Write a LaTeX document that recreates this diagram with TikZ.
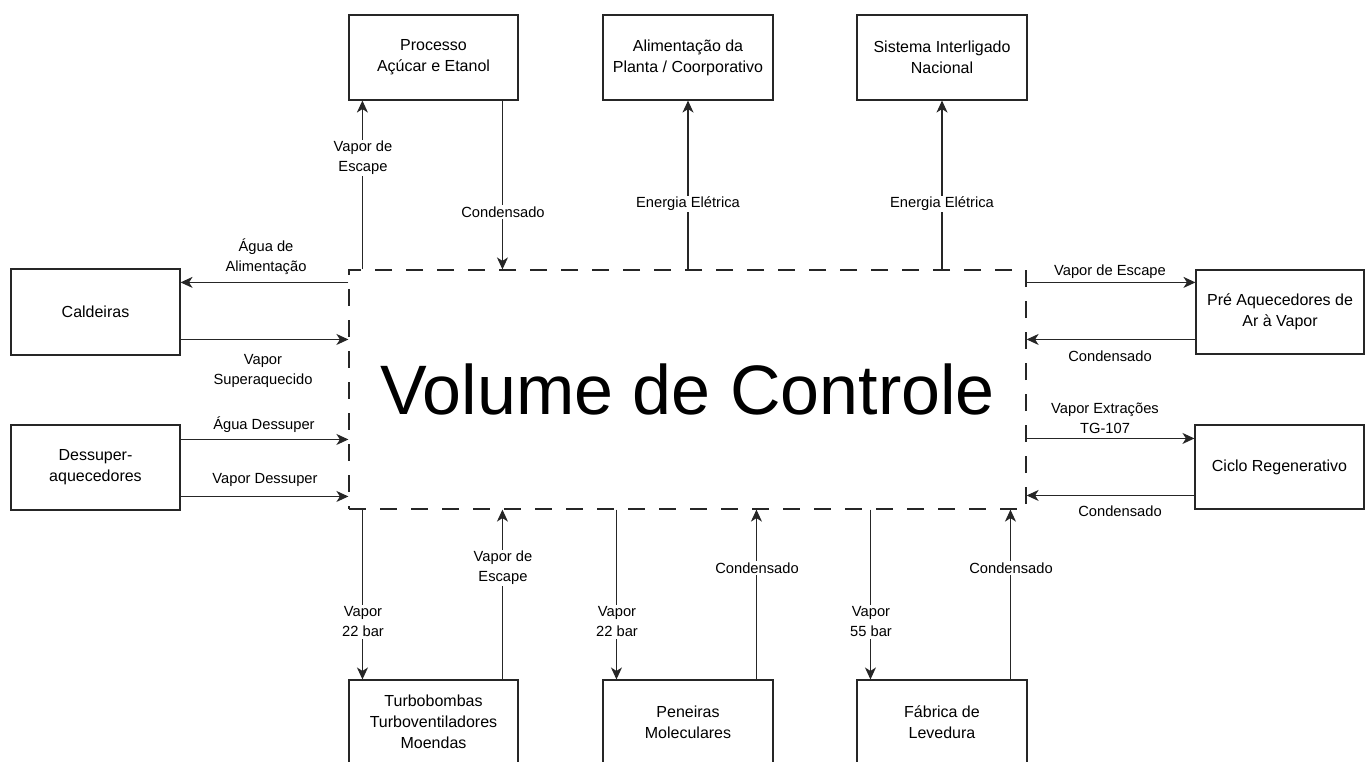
\documentclass[tikz,border=0pt]{standalone}
\usepackage{fontspec}
\setmainfont{Liberation Sans}
\usetikzlibrary{arrows.meta}
\begin{document}
\begin{tikzpicture}[x=1pt,y=-1pt,
  box/.style={draw=black!85, line width=1.1pt, align=center, inner sep=0pt, font=\fontsize{16}{21}\selectfont},
  lbl/.style={align=center, inner sep=1.5pt, font=\fontsize{14.7}{20}\selectfont},
  wlbl/.style={lbl, fill=white},
  arr/.style={draw=black!85, line width=1.2pt, -{Stealth[length=12pt,width=11pt,inset=3.5pt]}},
]
\useasboundingbox (0,0) rectangle (1372,761);
% control volume
\node[draw=black!85, line width=1.2pt, dash pattern=on 17pt off 14pt, minimum width=677pt, minimum height=239pt, inner sep=0pt, font=\fontsize{70}{84}\selectfont] (vc) at (687.5,389.5) {Volume de Controle};
% top boxes
\node[box, minimum width=169pt, minimum height=85pt] (proc) at (433.5,57.5) {Processo\\Açúcar e Etanol};
\node[box, minimum width=170pt, minimum height=85pt] (ali) at (688,57.5) {Alimentação da\\Planta / Coorporativo};
\node[box, minimum width=170pt, minimum height=85pt] (sin) at (942,57.5) {Sistema Interligado\\Nacional};
% left boxes
\node[box, minimum width=169pt, minimum height=86pt] (cal) at (95.5,312) {Caldeiras};
\node[box, minimum width=169pt, minimum height=85pt] (des) at (95.5,467.5) {Dessuper-\\aquecedores};
% right boxes
\node[box, minimum width=168pt, minimum height=84pt] (pre) at (1280,312) {Pré Aquecedores de\\Ar à Vapor};
\node[box, minimum width=169pt, minimum height=84pt] (cic) at (1279.5,467) {Ciclo Regenerativo};
% bottom boxes
\node[box, minimum width=169pt, minimum height=84pt] (tur) at (433.5,722) {Turbobombas\\Turboventiladores\\Moendas};
\node[box, minimum width=170pt, minimum height=84pt] (pen) at (688,722) {Peneiras\\Moleculares};
\node[box, minimum width=170pt, minimum height=84pt] (fab) at (942,722) {Fábrica de\\Levedura};

% top connectors
\draw[arr] ([xshift=14pt]vc.north west) -- ([xshift=14pt]vc.north west |- proc.south);
\draw[arr] ([xshift=154pt]proc.south west) -- ([xshift=154pt]proc.south west |- vc.north);
\draw[arr] (vc.north -| ali.south) -- (ali.south);
\draw[arr] (vc.north -| sin.south) -- (sin.south);
\node[wlbl] (l1) at (363,158) {Vapor de\\Escape};
\node[wlbl] (l2) at (503,212) {Condensado};
\node[wlbl] (l3) at (688,204) {Energia Elétrica};
\node[wlbl] (l4) at (942,204) {Energia Elétrica};

% left connectors
\draw[arr] ([yshift=-13pt]vc.north west) -- ([yshift=-13pt]vc.north west -| cal.east);
\draw[arr] ([yshift=-71pt]cal.north east) -- ([yshift=-71pt]cal.north east -| vc.west);
\draw[arr] ([yshift=-15pt]des.north east) -- ([yshift=-15pt]des.north east -| vc.west);
\draw[arr] ([yshift=-72pt]des.north east) -- ([yshift=-72pt]des.north east -| vc.west);
\node[lbl] (l5) at (266,257) {Água de\\Alimentação};
\node[lbl] (l6) at (263,371) {Vapor\\Superaquecido};
\node[lbl] (l7) at (264,425) {Água Dessuper};
\node[lbl] (l8) at (265,480) {Vapor Dessuper};

% right connectors
\draw[arr] ([yshift=-13pt]vc.north east) -- ([yshift=-13pt]vc.north east -| pre.west);
\draw[arr] ([yshift=-70pt]pre.north west) -- ([yshift=-70pt]pre.north west -| vc.east);
\draw[arr] ([yshift=-14pt]cic.north west -| vc.east) -- ([yshift=-14pt]cic.north west);
\draw[arr] ([yshift=-71pt]cic.north west) -- ([yshift=-71pt]cic.north west -| vc.east);
\node[lbl] (l9) at (1110,272) {Vapor de Escape};
\node[lbl] (l10) at (1110,356) {Condensado};
\node[lbl] (l11) at (1105,418) {Vapor Extrações\\TG-107};
\node[lbl] (l12) at (1120,511) {Condensado};

% bottom connectors
\draw[arr] ([xshift=14pt]tur.north west |- vc.south) -- ([xshift=14pt]tur.north west);
\draw[arr] ([xshift=154pt]tur.north west) -- ([xshift=154pt]tur.north west |- vc.south);
\draw[arr] ([xshift=14pt]pen.north west |- vc.south) -- ([xshift=14pt]pen.north west);
\draw[arr] ([xshift=154pt]pen.north west) -- ([xshift=154pt]pen.north west |- vc.south);
\draw[arr] ([xshift=14pt]fab.north west |- vc.south) -- ([xshift=14pt]fab.north west);
\draw[arr] ([xshift=154pt]fab.north west) -- ([xshift=154pt]fab.north west |- vc.south);
\node[wlbl] (l13) at (363,622) {Vapor\\22 bar};
\node[wlbl] (l14) at (503,568) {Vapor de\\Escape};
\node[wlbl] (l15) at (617,622) {Vapor\\22 bar};
\node[wlbl] (l16) at (757,568) {Condensado};
\node[wlbl] (l17) at (871,622) {Vapor\\55 bar};
\node[wlbl] (l18) at (1011,568) {Condensado};
\end{tikzpicture}
\end{document}
